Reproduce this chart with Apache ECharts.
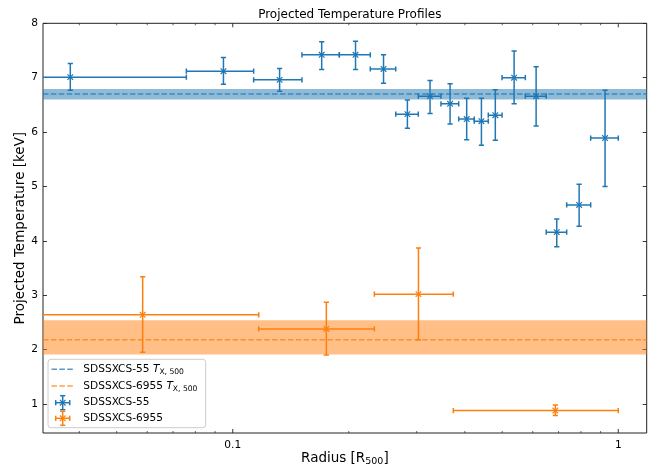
<!DOCTYPE html>
<html>
<head>
<meta charset="utf-8">
<script src="https://cdn.jsdelivr.net/npm/echarts@6/dist/echarts.min.js"></script>
<style>
  html, body { margin: 0; padding: 0; background: #fff; }
  #chart { width: 656px; height: 469px; }
</style>
</head>
<body>
<div id="chart"></div>
<script>
// ---- Axis ranges ----
const X_MIN = 0.0322;
const X_MAX = 1.185;
const Y_MIN = 0.467;
const Y_MAX = 8;

// ---- SDSSXCS-55 profile ----
const radius55   = [0.0379, 0.0946, 0.1323, 0.1701, 0.2082, 0.2461, 0.2838, 0.3249, 0.3662, 0.4044, 0.4416, 0.4798, 0.5368, 0.6122, 0.6926, 0.7915, 0.9240];
const radius55Lo = [0, 0.0758, 0.1133, 0.1512, 0.1890, 0.2274, 0.2647, 0.3029, 0.3468, 0.3856, 0.4231, 0.4601, 0.4995, 0.5740, 0.6504, 0.7348, 0.8481];
const radius55Hi = [0.0758, 0.1133, 0.1512, 0.1890, 0.2274, 0.2647, 0.3029, 0.3468, 0.3856, 0.4231, 0.4601, 0.4995, 0.5740, 0.6504, 0.7348, 0.8481, 1.0];
const temp55     = [7.01, 7.12, 6.96, 7.42, 7.42, 7.16, 6.33, 6.66, 6.52, 6.24, 6.20, 6.31, 7.00, 6.66, 4.16, 4.66, 5.89];
const temp55Lo   = [6.77, 6.88, 6.75, 7.15, 7.15, 6.90, 6.07, 6.34, 6.15, 5.86, 5.76, 5.85, 6.52, 6.11, 3.89, 4.27, 5.00];
const temp55Hi   = [7.26, 7.37, 7.17, 7.66, 7.67, 7.42, 6.59, 6.95, 6.89, 6.62, 6.62, 6.78, 7.49, 7.20, 4.40, 5.04, 6.77];

// ---- SDSSXCS-6955 profile ----
const radius6955   = [0.0584, 0.1749, 0.3032, 0.6867];
const radius6955Lo = [0, 0.1168, 0.2330, 0.3733];
const radius6955Hi = [0.1168, 0.2330, 0.3733, 1.0];
const temp6955     = [2.64, 2.38, 3.02, 0.88];
const temp6955Lo   = [1.95, 1.90, 2.18, 0.79];
const temp6955Hi   = [3.34, 2.87, 3.87, 0.98];

// ---- Global temperatures T_X,500 with 1-sigma ranges ----
const tx55 = 6.70, tx55Range = [6.60, 6.79];
const tx6955 = 2.18, tx6955Range = [1.91, 2.54];

// ---- Tick positions ----
const xMajorTicks = [0.1, 1];
const xMinorTicks = [0.04, 0.05, 0.06, 0.07, 0.08, 0.09, 0.2, 0.3, 0.4, 0.5, 0.6, 0.7, 0.8, 0.9];
const yTicks = [1, 2, 3, 4, 5, 6, 7, 8];

const BLUE = '#1f77b4';
const ORANGE = '#ff7f0e';
const FONT = 'DejaVu Sans';

function zip(x, xl, xh, y, yl, yh) {
  return x.map((v, i) => [v, y[i], xl[i], xh[i], yl[i], yh[i]]);
}

// Error bar glyph: horizontal + vertical bars with caps and an 'x' marker
function errorBarRender(color) {
  return function (params, api) {
    const x = api.value(0), y = api.value(1);
    const xl = Math.max(api.value(2), X_MIN * 0.5), xh = api.value(3);
    const yl = api.value(4), yh = api.value(5);
    const c = api.coord([x, y]);
    const pl = api.coord([xl, y]), ph = api.coord([xh, y]);
    const pb = api.coord([x, yl]), pt = api.coord([x, yh]);
    const cap = 2.6, m = 2.8;
    const st = { stroke: color, lineWidth: 1.5 };
    const line = (x1, y1, x2, y2, s) => ({ type: 'line', shape: { x1, y1, x2, y2 }, style: s || st });
    return {
      type: 'group',
      children: [
        line(pl[0], c[1], ph[0], c[1]),
        line(pl[0], c[1] - cap, pl[0], c[1] + cap),
        line(ph[0], c[1] - cap, ph[0], c[1] + cap),
        line(c[0], pb[1], c[0], pt[1]),
        line(c[0] - cap, pb[1], c[0] + cap, pb[1]),
        line(c[0] - cap, pt[1], c[0] + cap, pt[1]),
        line(c[0] - m, c[1] - m, c[0] + m, c[1] + m, { stroke: color, lineWidth: 1.2 }),
        line(c[0] - m, c[1] + m, c[0] + m, c[1] - m, { stroke: color, lineWidth: 1.2 })
      ]
    };
  };
}

// Inward tick marks on the bottom and top edges of the log x-axis
function xTickRender(params, api) {
  const v = api.value(0), major = api.value(1) === 1;
  const len = major ? 4 : 2;
  const b = api.coord([v, Y_MIN]), t = api.coord([v, Y_MAX]);
  const st = { stroke: '#222', lineWidth: major ? 0.9 : 0.7 };
  return {
    type: 'group',
    children: [
      { type: 'line', shape: { x1: b[0], y1: b[1], x2: b[0], y2: b[1] - len }, style: st },
      { type: 'line', shape: { x1: t[0], y1: t[1], x2: t[0], y2: t[1] + len }, style: st }
    ]
  };
}

const chart = echarts.init(document.getElementById('chart'), null, { renderer: 'canvas' });

// Legend built from graphic primitives
const legendX = 48, legendY = 359.3;
const rowY = [369.3, 386, 402.7, 418.3];
function legendErrIcon(cx, cy, color) {
  const st = { stroke: color, lineWidth: 1.5 };
  const L = (x1, y1, x2, y2, s) => ({ type: 'line', shape: { x1, y1, x2, y2 }, style: s || st });
  const h = 7, cap = 2.6, m = 2.8;
  return [
    L(cx - h, cy, cx + h, cy), L(cx - h, cy - cap, cx - h, cy + cap), L(cx + h, cy - cap, cx + h, cy + cap),
    L(cx, cy - h, cx, cy + h), L(cx - cap, cy - h, cx + cap, cy - h), L(cx - cap, cy + h, cx + cap, cy + h),
    L(cx - m, cy - m, cx + m, cy + m, { stroke: color, lineWidth: 1.2 }),
    L(cx - m, cy + m, cx + m, cy - m, { stroke: color, lineWidth: 1.2 })
  ];
}
const legendRich = {
  n: { fontFamily: FONT, fontSize: 10.6, fill: '#000' },
  t: { fontFamily: FONT, fontSize: 10.6, fontStyle: 'italic', fill: '#000' },
  s: { fontFamily: FONT, fontSize: 7.6, fill: '#000', verticalAlign: 'bottom', padding: [6, 0, 0, 0] }
};
function legendText(y, txt) {
  return { type: 'text', x: 83.3, y: y, style: { text: txt, rich: legendRich, verticalAlign: 'middle', align: 'left', fontFamily: FONT, fontSize: 10.6 } };
}
const legendGraphics = [
  { type: 'rect', shape: { x: legendX, y: legendY, width: 157.7, height: 68.4, r: 3 },
    style: { fill: 'rgba(255,255,255,0.8)', stroke: '#cccccc', lineWidth: 1 } },
  { type: 'line', shape: { x1: 51.5, y1: rowY[0], x2: 74, y2: rowY[0] }, style: { stroke: BLUE, opacity: 0.75, lineWidth: 1.5, lineDash: [5.5, 2.4] } },
  { type: 'line', shape: { x1: 51.5, y1: rowY[1], x2: 74, y2: rowY[1] }, style: { stroke: ORANGE, opacity: 0.75, lineWidth: 1.5, lineDash: [5.5, 2.4] } },
  ...legendErrIcon(62.7, rowY[2], BLUE),
  ...legendErrIcon(62.7, rowY[3], ORANGE),
  legendText(rowY[0], '{n|SDSSXCS-55 }{t|T}{s|X, 500}'),
  legendText(rowY[1], '{n|SDSSXCS-6955 }{t|T}{s|X, 500}'),
  legendText(rowY[2], '{n|SDSSXCS-55}'),
  legendText(rowY[3], '{n|SDSSXCS-6955}')
].map(g => Object.assign({ z: 100 }, g));

const option = {
  animation: false,
  backgroundColor: '#fff',
  title: {
    text: 'Projected Temperature Profiles',
    left: 344.8, top: 4, textAlign: 'center',
    textStyle: { fontFamily: FONT, fontSize: 12, fontWeight: 'normal', color: '#000' }
  },
  grid: {
    left: 43, top: 23.3, right: 9.3, bottom: 36,
    outerBoundsMode: 'none', containLabel: false,
    show: true, borderColor: '#222', borderWidth: 1, backgroundColor: 'transparent'
  },
  xAxis: [{
    type: 'log', logBase: 10, min: X_MIN, max: X_MAX,
    axisLine: { show: false }, axisTick: { show: false }, splitLine: { show: false },
    name: '{a|Radius [R}{s|500}{a|]}', nameLocation: 'middle', nameGap: 17, nameMoveOverlap: false,
    nameTextStyle: {
      rich: {
        a: { fontFamily: FONT, fontSize: 13.5, color: '#000' },
        s: { fontFamily: FONT, fontSize: 9.5, color: '#000', verticalAlign: 'bottom', padding: [7, 0, 0, 0] }
      }
    },
    axisLabel: {
      showMinLabel: false, showMaxLabel: false, margin: 7,
      fontFamily: FONT, fontSize: 10.6, color: '#000',
      formatter: function (v) {
        const l = Math.log10(v);
        return Math.abs(l - Math.round(l)) < 1e-6 ? String(Math.round(Math.pow(10, Math.round(l)) * 10) / 10) : '';
      }
    }
  }],
  yAxis: [{
    type: 'value', min: Y_MIN, max: Y_MAX,
    axisLine: { show: false }, splitLine: { show: false },
    axisTick: { show: true, inside: true, length: 4, customValues: yTicks, lineStyle: { color: '#222', width: 0.9 } },
    axisLabel: { customValues: yTicks, fontFamily: FONT, fontSize: 10.6, color: '#000', margin: 5 },
    name: 'Projected Temperature [keV]', nameLocation: 'middle', nameGap: 16, nameMoveOverlap: false,
    nameTextStyle: { fontFamily: FONT, fontSize: 13.5, color: '#000' }
  }, {
    type: 'value', min: Y_MIN, max: Y_MAX, position: 'right',
    axisLine: { show: false }, splitLine: { show: false },
    axisTick: { show: true, inside: true, length: 4, customValues: yTicks, lineStyle: { color: '#222', width: 0.9 } },
    axisLabel: { show: false }
  }],
  graphic: legendGraphics,
  series: [
    {
      name: 'SDSSXCS-55 Tx500', type: 'line', symbol: 'none', silent: true, z: 2,
      data: [[X_MIN, tx55], [X_MAX, tx55]],
      lineStyle: { color: BLUE, width: 1.5, type: [5.5, 2.4], opacity: 0.75 },
      markArea: { silent: true, itemStyle: { color: BLUE, opacity: 0.5 },
        data: [[{ yAxis: tx55Range[0] }, { yAxis: tx55Range[1] }]] }
    },
    {
      name: 'SDSSXCS-6955 Tx500', type: 'line', symbol: 'none', silent: true, z: 2,
      data: [[X_MIN, tx6955], [X_MAX, tx6955]],
      lineStyle: { color: ORANGE, width: 1.5, type: [5.5, 2.4], opacity: 0.75 },
      markArea: { silent: true, itemStyle: { color: ORANGE, opacity: 0.5 },
        data: [[{ yAxis: tx6955Range[0] }, { yAxis: tx6955Range[1] }]] }
    },
    {
      name: 'SDSSXCS-55', type: 'custom', clip: true, z: 5,
      renderItem: errorBarRender(BLUE),
      encode: { x: 0, y: 1 },
      data: zip(radius55, radius55Lo, radius55Hi, temp55, temp55Lo, temp55Hi)
    },
    {
      name: 'SDSSXCS-6955', type: 'custom', clip: true, z: 5,
      renderItem: errorBarRender(ORANGE),
      encode: { x: 0, y: 1 },
      data: zip(radius6955, radius6955Lo, radius6955Hi, temp6955, temp6955Lo, temp6955Hi)
    },
    {
      name: 'xticks', type: 'custom', silent: true, z: 6,
      renderItem: xTickRender,
      encode: { x: 0, y: 2 },
      data: xMajorTicks.map(v => [v, 1, Y_MIN]).concat(xMinorTicks.map(v => [v, 0, Y_MIN]))
    }
  ]
};
chart.setOption(option);
</script>
</body>
</html>
